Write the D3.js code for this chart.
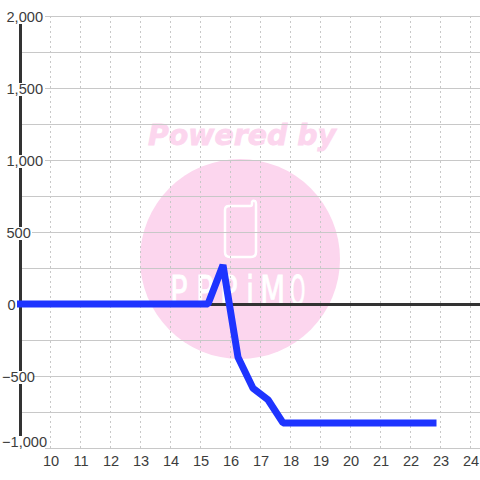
<!DOCTYPE html>
<html>
<head>
<meta charset="utf-8">
<script src="https://d3js.org/d3.v7.min.js"></script>
<style>
html, body { margin: 0; padding: 0; background: #fff; }
svg { display: block; }
text { font-family: "Liberation Sans", Arial, sans-serif; }
</style>
</head>
<body>
<svg id="chart" width="480" height="480"></svg>
<script>
var hours = [9, 15.25, 15.75, 16.25, 16.75, 17.25, 17.75, 22.75];
var values = [0, 0, 270, -370, -585, -665, -826, -826];
var xTicks = [10, 11, 12, 13, 14, 15, 16, 17, 18, 19, 20, 21, 22, 23, 24];
var yGrid = [2000, 1750, 1500, 1250, 1000, 750, 500, 250, 0, -250, -500, -750, -1000];
var yLabels = [2000, 1500, 1000, 500, 0, -500, -1000];
var logoLetters = ["P", "P", "P", "i", "M", "O"];

var svg1 = d3.select("#chart");
var width = +svg1.attr("width");
var height = +svg1.attr("height");

var x = d3.scaleLinear().domain([10, 24]).range([50.5, 470.5]);
var y = d3.scaleLinear().domain([-1000, 2000]).range([448, 16]);
var fmt = d3.format(",");

// watermark sits under the grid
var mark = svg1.append("g");
mark.append("circle")
    .attr("cx", 240).attr("cy", 259).attr("r", 100)
    .attr("fill", "#fcd6ee");
mark.append("text")
    .attr("x", 148).attr("y", 145)
    .attr("textLength", 188)
    .attr("lengthAdjust", "spacingAndGlyphs")
    .style("font-family", "'DejaVu Sans'")
    .style("font-weight", "bold")
    .style("font-style", "italic")
    .style("font-size", "28px")
    .attr("fill", "#fcd6ee")
    .attr("stroke", "#fcd6ee")
    .attr("stroke-width", 0.8)
    .text("Powered by");
// phone outline
mark.append("path")
    .attr("d", "M229 206 H250 Q252 206 252 204 V202 Q253 200 255 201 Q256 202 256 204 V252 Q256 257 251 257 H230 Q225 257 225 252 V210 Q225 206 229 206 Z")
    .attr("fill", "none")
    .attr("stroke", "#fff")
    .attr("stroke-width", 2.5);
mark.selectAll("text.logo")
    .data(logoLetters)
    .enter()
    .append("text")
    .attr("class", "logo")
    .attr("transform", (d, i) => `translate(${[170, 196, 220, 246, 260, 290][i]}, 305) scale(${[0.75, 0.75, 0.75, 0.75, 0.75, 0.5][i]}, 1.05)`)
    .style("font-family", "'DejaVu Sans'")
    .style("font-size", "39px")
    .attr("fill", "#fff")
    .attr("stroke", "#fff")
    .attr("stroke-width", 0.8)
    .text(d => d);

svg1.selectAll("line.vgrid")
    .data(xTicks)
    .enter()
    .append("line")
    .attr("class", "vgrid")
    .attr("x1", d => x(d)).attr("x2", d => x(d))
    .attr("y1", 16).attr("y2", 448)
    .attr("stroke", "#c8c8c8")
    .attr("stroke-dasharray", "2,3");

svg1.selectAll("line.hgrid")
    .data(yGrid)
    .enter()
    .append("line")
    .attr("class", "hgrid")
    .attr("x1", 20).attr("x2", width)
    .attr("y1", d => y(d) + 0.5).attr("y2", d => y(d) + 0.5)
    .attr("stroke", "#c8c8c8");

// axis lines
svg1.append("line")
    .attr("x1", 20.5).attr("x2", 20.5)
    .attr("y1", y(2000)).attr("y2", y(-1000))
    .attr("stroke", "#333").attr("stroke-width", 3);
svg1.append("line")
    .attr("x1", 20).attr("x2", width)
    .attr("y1", y(0) + 0.5).attr("y2", y(0) + 0.5)
    .attr("stroke", "#333").attr("stroke-width", 3);

// y labels have a white box that cuts the axis and the grid; -1,000 sits above its line
function labelBase(d) {
    return d == -1000 ? y(d) - 1 : y(d) + 6;
}
var labelG = svg1.selectAll("g.ylabel")
    .data(yLabels)
    .enter()
    .append("g")
    .attr("class", "ylabel");
labelG.append("rect")
    .attr("x", 0)
    .attr("y", d => labelBase(d) - 11)
    .attr("width", d => ({"2000": 45, "1500": 45, "1000": 45, "500": 32, "0": 18, "-500": 33, "-1000": 45})[d])
    .attr("height", d => d == -1000 ? 13 : 13)
    .attr("fill", "#fff");
labelG.append("text")
    .attr("x", d => d < 0 ? 2 : (d == 0 ? 7.5 : 6.5))
    .attr("y", d => labelBase(d))
    .style("font-size", "14.6px")
    .attr("fill", "#3c3c3c")
    .text(d => fmt(d));

svg1.selectAll("text.xlabel")
    .data(xTicks)
    .enter()
    .append("text")
    .attr("class", "xlabel")
    .attr("x", d => x(d) + 0.5)
    .attr("y", 466)
    .attr("text-anchor", "middle")
    .style("font-size", "14.6px")
    .attr("fill", "#3c3c3c")
    .text(d => d);

var line = d3.line()
    .x(d => x(d[0]))
    .y(d => y(d[1]));

svg1.append("path")
    .attr("d", line(d3.zip(hours, values)))
    .attr("fill", "none")
    .attr("stroke", "#1e34ff")
    .attr("stroke-width", 7)
    .attr("stroke-linecap", "square")
    .attr("stroke-linejoin", "bevel");
</script>
</body>
</html>
